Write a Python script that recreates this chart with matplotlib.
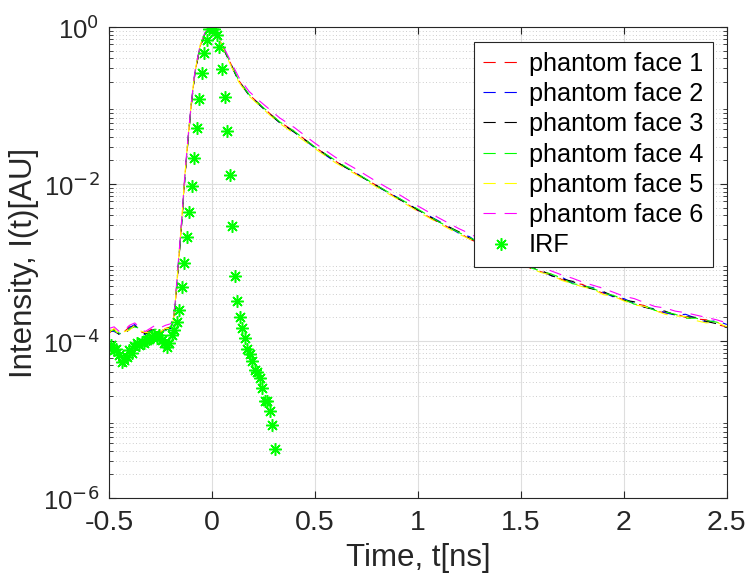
import numpy as np
import matplotlib
matplotlib.use('Agg')
import matplotlib.pyplot as plt
from matplotlib.ticker import LogLocator, FixedLocator, NullFormatter

plt.rcParams['font.family'] = ['Liberation Sans', 'DejaVu Sans']

# time grid of the phantom curves (ns)
t_face = [-0.50, -0.475, -0.45, -0.425, -0.40, -0.375, -0.35, -0.325, -0.30, -0.275, -0.25, -0.225, -0.20,
          -0.19, -0.18, -0.165, -0.146, -0.131, -0.115, -0.10, -0.083, -0.058, -0.034, -0.015, 0.0,
          0.02, 0.04, 0.065, 0.09, 0.13, 0.18, 0.23, 0.28, 0.33,
          0.40, 0.50, 0.60, 0.70, 0.80, 0.90, 1.00, 1.10, 1.20, 1.25, 1.30, 1.35, 1.40, 1.45, 1.50,
          1.55, 1.60, 1.65, 1.70, 1.75, 1.80, 1.85, 1.90, 1.95, 2.00, 2.05, 2.10, 2.15, 2.20, 2.25,
          2.30, 2.35, 2.40, 2.45, 2.50]

# log10 of intensity, per phantom face
face1 = [-3.90, -3.85, -3.93, -3.88, -3.82, -3.81, -3.88, -3.90, -3.86, -3.83, -3.89, -3.84, -3.82,
         -3.76, -3.60, -3.10, -2.46, -1.90, -1.40, -0.98, -0.59, -0.25, -0.08, -0.02, 0.0,
         -0.05, -0.17, -0.32, -0.46, -0.68, -0.86, -0.98, -1.10, -1.21,
         -1.33, -1.53, -1.71, -1.87, -2.02, -2.18, -2.34, -2.49, -2.62, -2.70, -2.76, -2.81, -2.89, -2.96, -3.00,
         -3.08, -3.12, -3.15, -3.22, -3.26, -3.28, -3.35, -3.39, -3.42, -3.48, -3.52, -3.55, -3.62, -3.64, -3.65,
         -3.70, -3.72, -3.73, -3.79, -3.82]
face2 = [-3.87, -3.88, -3.91, -3.89, -3.83, -3.79, -3.87, -3.92, -3.87, -3.85, -3.86, -3.86, -3.84,
         -3.75, -3.58, -3.08, -2.45, -1.89, -1.39, -0.97, -0.58, -0.25, -0.08, -0.02, 0.0,
         -0.05, -0.17, -0.32, -0.46, -0.69, -0.86, -0.99, -1.11, -1.22,
         -1.34, -1.54, -1.72, -1.86, -2.03, -2.17, -2.33, -2.47, -2.63, -2.67, -2.76, -2.83, -2.87, -2.95, -3.02,
         -3.05, -3.12, -3.17, -3.19, -3.26, -3.30, -3.32, -3.38, -3.44, -3.46, -3.52, -3.57, -3.59, -3.64, -3.67,
         -3.66, -3.71, -3.76, -3.74, -3.79]
face3 = [-3.88, -3.86, -3.92, -3.91, -3.85, -3.81, -3.85, -3.91, -3.89, -3.84, -3.87, -3.85, -3.83,
         -3.77, -3.62, -3.11, -2.47, -1.91, -1.41, -0.99, -0.60, -0.26, -0.09, -0.02, 0.0,
         -0.05, -0.17, -0.33, -0.47, -0.69, -0.87, -0.99, -1.11, -1.22,
         -1.34, -1.53, -1.71, -1.87, -2.02, -2.18, -2.33, -2.48, -2.61, -2.69, -2.74, -2.82, -2.88, -2.94, -3.02,
         -3.06, -3.10, -3.17, -3.21, -3.24, -3.30, -3.34, -3.37, -3.43, -3.48, -3.50, -3.57, -3.60, -3.62, -3.67,
         -3.69, -3.70, -3.75, -3.78, -3.83]
face4 = [-3.86, -3.87, -3.90, -3.92, -3.84, -3.82, -3.84, -3.90, -3.88, -3.85, -3.86, -3.87, -3.82,
         -3.76, -3.60, -3.09, -2.46, -1.90, -1.40, -0.98, -0.59, -0.25, -0.08, -0.02, 0.0,
         -0.05, -0.17, -0.32, -0.46, -0.68, -0.86, -0.98, -1.10, -1.21,
         -1.33, -1.53, -1.70, -1.86, -2.02, -2.17, -2.32, -2.48, -2.62, -2.68, -2.75, -2.82, -2.87, -2.96, -3.00,
         -3.07, -3.11, -3.15, -3.20, -3.27, -3.29, -3.33, -3.39, -3.42, -3.47, -3.53, -3.55, -3.61, -3.63, -3.66,
         -3.71, -3.71, -3.74, -3.76, -3.80]
face5 = [-3.89, -3.84, -3.93, -3.88, -3.86, -3.80, -3.87, -3.89, -3.90, -3.83, -3.88, -3.84, -3.84,
         -3.78, -3.57, -3.07, -2.43, -1.87, -1.38, -0.96, -0.57, -0.24, -0.07, -0.02, 0.0,
         -0.06, -0.18, -0.34, -0.48, -0.70, -0.88, -1.00, -1.12, -1.23,
         -1.36, -1.55, -1.73, -1.88, -2.04, -2.19, -2.35, -2.50, -2.64, -2.70, -2.77, -2.84, -2.90, -2.95, -3.03,
         -3.08, -3.13, -3.16, -3.23, -3.27, -3.31, -3.34, -3.41, -3.43, -3.49, -3.54, -3.56, -3.61, -3.66, -3.68,
         -3.69, -3.74, -3.77, -3.76, -3.82]
face6 = [-3.84, -3.82, -3.88, -3.86, -3.80, -3.77, -3.83, -3.88, -3.84, -3.80, -3.83, -3.80, -3.78,
         -3.72, -3.55, -3.05, -2.42, -1.86, -1.37, -0.96, -0.57, -0.24, -0.07, -0.02, 0.0,
         -0.04, -0.15, -0.30, -0.43, -0.64, -0.82, -0.94, -1.05, -1.16,
         -1.28, -1.48, -1.66, -1.81, -1.97, -2.12, -2.28, -2.43, -2.57, -2.63, -2.70, -2.77, -2.83, -2.90, -2.96,
         -3.02, -3.06, -3.11, -3.16, -3.20, -3.25, -3.29, -3.33, -3.38, -3.43, -3.46, -3.51, -3.56, -3.58, -3.62,
         -3.64, -3.67, -3.70, -3.73, -3.77]

# instrument response function, sampled every 12.2 ps
t_irf = np.arange(-41, 26) * 0.0122
irf = [-4.08, -4.05, -4.12, -4.10, -4.18, -4.27, -4.24, -4.20, -4.12, -4.15, -4.06, -4.03, -4.05, -4.01,
       -4.02, -3.99, -3.97, -3.95, -3.92, -3.96, -3.93, -3.99, -4.03, -4.08, -4.02, -3.93, -3.86, -3.76,
       -3.60, -3.31, -3.01, -2.68, -2.36, -2.02, -1.67, -1.29, -0.92, -0.59, -0.33, -0.16, -0.03, 0.0,
       -0.02, -0.10, -0.26, -0.54, -0.89, -1.33, -1.88, -2.54, -3.17, -3.49, -3.69, -3.83, -3.96, -4.10,
       -4.17, -4.26, -4.37, -4.39, -4.47, -4.60, -4.76, -4.77, -4.89, -5.07, -5.38]

faces = [face1, face2, face3, face4, face5, face6]
colors = ['#ff0000', '#0000ff', '#000000', '#00ff00', '#ffff00', '#ff00ff']
names = ['phantom face 1', 'phantom face 2', 'phantom face 3',
         'phantom face 4', 'phantom face 5', 'phantom face 6']

fig = plt.figure(figsize=(7.48, 5.75), dpi=100)
ax = fig.add_axes([0.1457, 0.134, 0.826, 0.819])

for f, c, n in zip(faces, colors, names):
    ax.plot(t_face, 10 ** np.array(f), color=c, lw=0.8, dashes=(11, 8), label=n)
ax.plot(t_irf, 10 ** np.array(irf), ls='none', marker=(8, 2, 0), ms=9,
        mec='#00ff00', mfc='#00ff00', mew=1.1, label='IRF')

ax.set_yscale('log')
ax.set_xlim(-0.5, 2.5)
ax.set_ylim(1e-6, 1)
ax.xaxis.set_major_locator(FixedLocator([-0.5, 0, 0.5, 1, 1.5, 2, 2.5]))
ax.set_xticklabels(['-0.5', '0', '0.5', '1', '1.5', '2', '2.5'])
ax.yaxis.set_major_locator(FixedLocator([1e-6, 1e-4, 1e-2, 1]))
ax.set_yticklabels([r'10$^{-6}$', r'10$^{-4}$', r'10$^{-2}$', r'10$^{0}$'])
ax.yaxis.set_minor_locator(LogLocator(base=10, subs=np.arange(2, 10), numticks=20))
ax.yaxis.set_minor_formatter(NullFormatter())

ax.grid(True, which='major', color='#dedede', lw=0.8)
ax.grid(True, which='minor', axis='y', color='#bdbdbd', lw=0.6, ls=(0, (1, 3)))
ax.set_axisbelow(True)

ax.tick_params(which='both', direction='in', top=True, right=True, colors='#262626')
ax.tick_params(which='major', length=5, width=0.8)
ax.tick_params(which='minor', length=3, width=0.6)
ax.tick_params(axis='x', pad=9, labelsize=20.5)
ax.tick_params(axis='y', pad=7, labelsize=18.5)
for s in ax.spines.values():
    s.set_color('#262626')
    s.set_linewidth(0.8)

ax.set_xlabel('Time, t[ns]', fontsize=22.5, color='#262626', labelpad=5)
ax.set_ylabel('Intensity, I(t)[AU]', fontsize=22.5, color='#262626', labelpad=3)

leg = ax.legend(loc='upper right', bbox_to_anchor=(0.953, 0.927), bbox_transform=fig.transFigure,
                fontsize=18.2, frameon=True, fancybox=False, framealpha=1, edgecolor='#262626',
                handlelength=1.4, handletextpad=0.4, labelspacing=0.25, borderpad=0.38,
                borderaxespad=0)
leg.get_frame().set_linewidth(0.8)

fig.savefig('out.png', dpi=100)
